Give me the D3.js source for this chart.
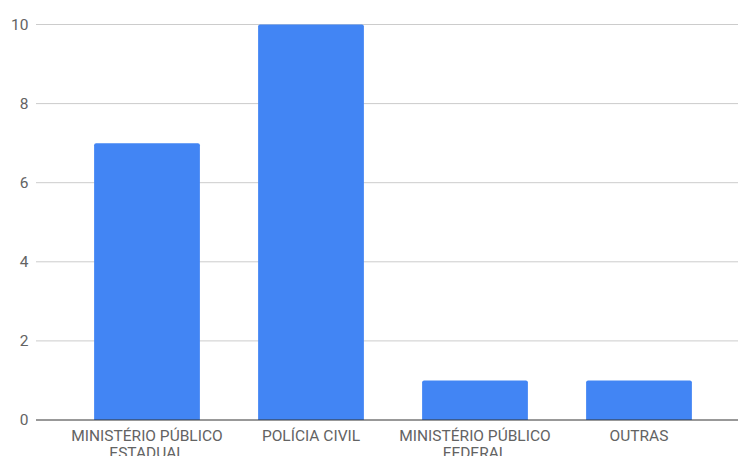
<!DOCTYPE html>
<html>
<head>
<meta charset="utf-8">
<script src="https://cdn.jsdelivr.net/npm/d3@7"></script>
<style>
  body { margin: 0; background: #fff; }
  svg { display: block; font-family: Roboto, "Noto Sans", sans-serif; }
</style>
</head>
<body>
<svg id="chart" width="738" height="456"></svg>
<script>
const categories = [["MINISTÉRIO PÚBLICO", "ESTADUAL"], ["POLÍCIA CIVIL"], ["MINISTÉRIO PÚBLICO", "FEDERAL"], ["OUTRAS"]];
const values = [7, 10, 1, 1];
const yTicks = [0, 2, 4, 6, 8, 10];

const svg = d3.select("#chart");
const gridLeft = 36, gridRight = 738;
const x = d3.scaleBand()
  .domain(categories.map((c, i) => i))
  .range([65, 721])
  .paddingInner(0.355)
  .paddingOuter(0.1775);
const y = d3.scaleLinear().domain([0, 10]).range([420, 24.5]);

// horizontal gridlines
svg.append("g").selectAll("line")
  .data(yTicks.filter(t => t !== 0))
  .join("line")
  .attr("x1", gridLeft).attr("x2", gridRight)
  .attr("y1", d => y(d)).attr("y2", d => y(d))
  .attr("stroke", "#cccccc").attr("stroke-width", 1);

// y tick labels
svg.append("g").selectAll("text")
  .data(yTicks)
  .join("text")
  .attr("x", 28.5).attr("y", d => y(d))
  .attr("dy", "0.35em")
  .attr("text-anchor", "end")
  .attr("font-size", 15.5)
  .attr("fill", "#636363")
  .text(d => d);

// bars with slightly rounded tops
const r = 2;
svg.append("g").selectAll("path")
  .data(values)
  .join("path")
  .attr("fill", "#4285f4")
  .attr("d", (d, i) => {
    const x0 = x(i), x1 = x(i) + x.bandwidth();
    const y0 = y(d), yb = y(0);
    return `M${x0},${yb}V${y0 + r}Q${x0},${y0} ${x0 + r},${y0}H${x1 - r}Q${x1},${y0} ${x1},${y0 + r}V${yb}Z`;
  });

// baseline
svg.append("line")
  .attr("x1", gridLeft).attr("x2", gridRight)
  .attr("y1", y(0)).attr("y2", y(0))
  .attr("stroke", "#333333").attr("stroke-width", 1);

// category labels
const labels = svg.append("g").selectAll("text")
  .data(categories)
  .join("text")
  .attr("text-anchor", "middle")
  .attr("font-size", 15.5)
  .attr("fill", "#636363");
labels.each(function(lines, i) {
  const t = d3.select(this);
  lines.forEach((ln, k) => {
    t.append("tspan")
      .attr("x", x(i) + x.bandwidth() / 2)
      .attr("y", 441 + k * 17)
      .text(ln);
  });
});
</script>
</body>
</html>
